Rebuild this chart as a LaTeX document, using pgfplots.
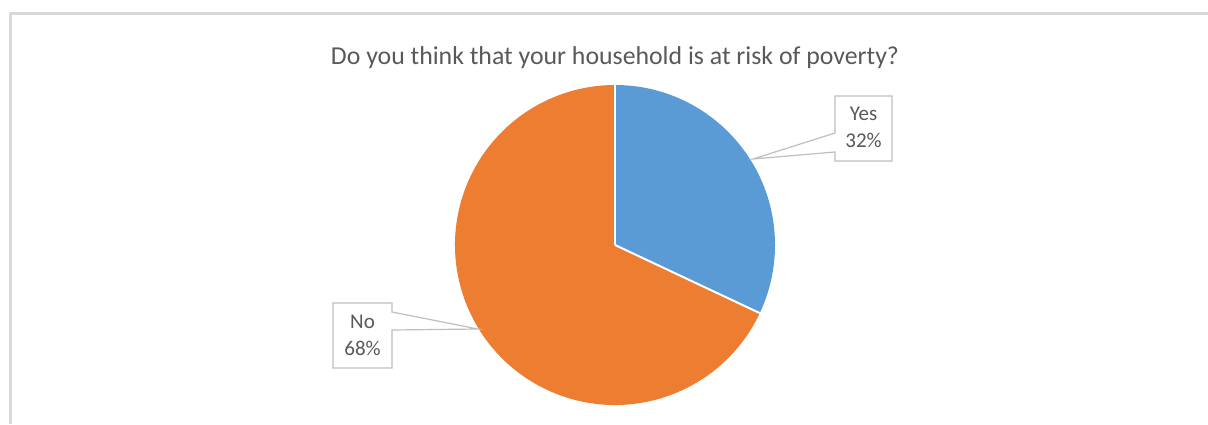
\documentclass[border=0pt]{standalone}
\usepackage{pgfplots}
\pgfplotsset{compat=1.18}
\usepackage{pgfplotstable}
\usepackage{fontspec}
\setmainfont{Carlito}
\definecolor{yescol}{HTML}{5B9BD5}
\definecolor{nocol}{HTML}{ED7D31}
\definecolor{txt}{HTML}{595959}
\definecolor{callout}{HTML}{BFBFBF}
\definecolor{framecol}{HTML}{D9D9D9}

\pgfplotstableread{
label value
Yes 32
No 68
}\piedata

\begin{document}
\begin{tikzpicture}
\pgfplotstablegetelem{0}{value}\of\piedata \let\vyes\pgfplotsretval
\pgfplotstablegetelem{1}{value}\of\piedata \let\vno\pgfplotsretval
\pgfmathsetmacro\total{\vyes+\vno}
\pgfmathsetmacro\angyes{90-\vyes/\total*360}
\begin{axis}[scale only axis, width=604pt, height=212pt,
  xmin=0, xmax=1208, ymin=0, ymax=424, hide axis, clip=false]
% frame
\draw[framecol, line width=1.5pt] (axis cs:10,0) |- (axis cs:1208,410);
% slices
\fill[yescol] (axis cs:615,179) -- ++(90:80pt) arc[start angle=90, end angle=\angyes, radius=80pt] -- cycle;
\fill[nocol] (axis cs:615,179) -- ++(\angyes:80pt) arc[start angle=\angyes, end angle=-270, radius=80pt] -- cycle;
\draw[white, line width=1pt] (axis cs:615,179) -- ++(90:80pt);
\draw[white, line width=1pt] (axis cs:615,179) -- ++(\angyes:80pt);
% title
\node[txt, font=\fontsize{12.9}{15}\selectfont] at (axis cs:615,366) {Do you think that your household is at risk of poverty?};
% callouts
\draw[callout, fill=white, line width=0.6pt] (axis cs:835,328) -- (axis cs:892,328) -- (axis cs:892,263) -- (axis cs:835,263) -- (axis cs:835,272) -- (axis cs:753,265) -- (axis cs:835,291) -- cycle;
\node[txt, align=center, font=\fontsize{10.5}{13.5}\selectfont] at (axis cs:863.5,296.5) {Yes\\32\%};
\draw[callout, fill=white, line width=0.6pt] (axis cs:333,121) -- (axis cs:392,121) -- (axis cs:392,112) -- (axis cs:478,95) -- (axis cs:392,94) -- (axis cs:392,56) -- (axis cs:333,56) -- cycle;
\node[txt, align=center, font=\fontsize{10.5}{13.5}\selectfont] at (axis cs:362.5,88.5) {No\\68\%};
\end{axis}
\pgfresetboundingbox
\path[use as bounding box] (current axis.south west) rectangle (current axis.north east);
\end{tikzpicture}
\end{document}
